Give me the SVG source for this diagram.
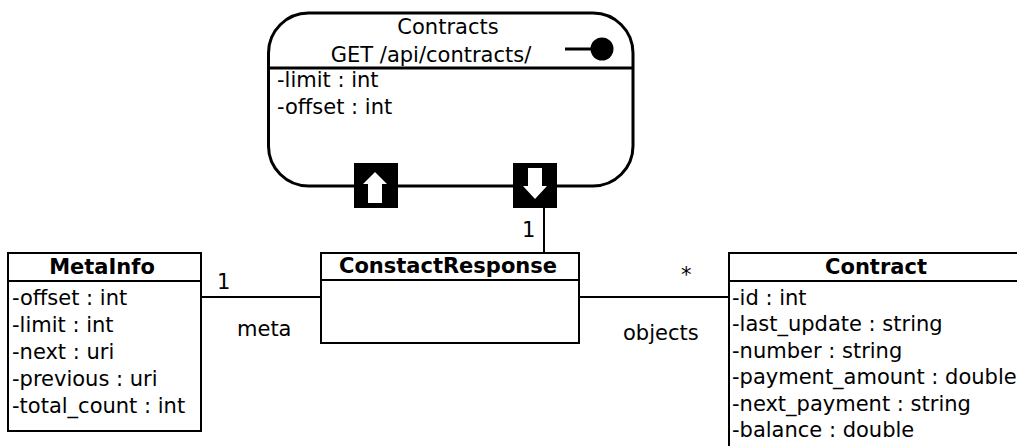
<svg xmlns="http://www.w3.org/2000/svg" width="1017" height="446" viewBox="0 0 1017 446">
<style>
text{font-family:"DejaVu Sans","Liberation Sans",sans-serif;font-size:21px;fill:#000}
.b{font-weight:bold}
.m{text-anchor:middle}
.box{fill:#fff;stroke:#000;stroke-width:2}
.res{fill:#fff;stroke:#000;stroke-width:3}
.ln{stroke:#000;stroke-width:2;fill:none}
.pin{fill:#000}
.arr{fill:#fff}
</style>
<rect width="1017" height="446" fill="#fff"/>
<g id="connectors">
<line class="ln" x1="544" y1="207" x2="544" y2="253"/>
<text x="522" y="237">1</text>
<line class="ln" x1="201" y1="297" x2="321" y2="297"/>
<text x="217" y="289">1</text>
<text x="237" y="336">meta</text>
<line class="ln" x1="579" y1="297" x2="729" y2="297"/>
<text x="681" y="282">*</text>
<text x="623" y="340">objects</text>
</g>
<g id="contracts">
<rect class="res" x="268.5" y="13" width="364.5" height="173" rx="40" ry="40"/>
<line class="ln" x1="268.5" y1="68" x2="633" y2="68" style="stroke-width:3"/>
<text class="m" x="448" y="34">Contracts</text>
<text class="m" x="431" y="62">GET /api/contracts/</text>
<line class="ln" x1="565" y1="49" x2="598" y2="49" style="stroke-width:3"/>
<circle cx="602" cy="49" r="11.5" fill="#000"/>
<text x="277" y="87">-limit : int</text>
<text x="277" y="114">-offset : int</text>
<rect class="pin" x="354" y="163" width="44" height="45"/>
<polygon class="arr" points="375,172 387,184 382,184 382,203 368,203 368,184 363,184"/>
<rect class="pin" x="513" y="163" width="44" height="45"/>
<polygon class="arr" points="528,168 542,168 542,186 547,186 535,199 523,186 528,186"/>
</g>
<g id="constactresponse">
<rect class="box" x="321" y="253" width="258" height="90"/>
<line class="ln" x1="321" y1="280" x2="579" y2="280"/>
<text class="b m" x="448" y="273">ConstactResponse</text>
</g>
<g id="metainfo">
<rect class="box" x="8" y="253" width="193" height="178"/>
<line class="ln" x1="8" y1="281" x2="201" y2="281"/>
<text class="b m" x="102" y="274">MetaInfo</text>
<text x="12" y="305">-offset : int</text>
<text x="12" y="332">-limit : int</text>
<text x="12" y="359">-next : uri</text>
<text x="12" y="386">-previous : uri</text>
<text x="12" y="413">-total_count : int</text>
</g>
<g id="contract">
<rect class="box" x="729" y="253" width="300" height="210"/>
<line class="ln" x1="729" y1="281" x2="1029" y2="281"/>
<text class="b m" x="876" y="274">Contract</text>
<text x="732" y="305">-id : int</text>
<text x="732" y="331">-last_update : string</text>
<text x="732" y="358">-number : string</text>
<text x="732" y="384">-payment_amount : double</text>
<text x="732" y="411">-next_payment : string</text>
<text x="732" y="437">-balance : double</text>
</g>
</svg>
